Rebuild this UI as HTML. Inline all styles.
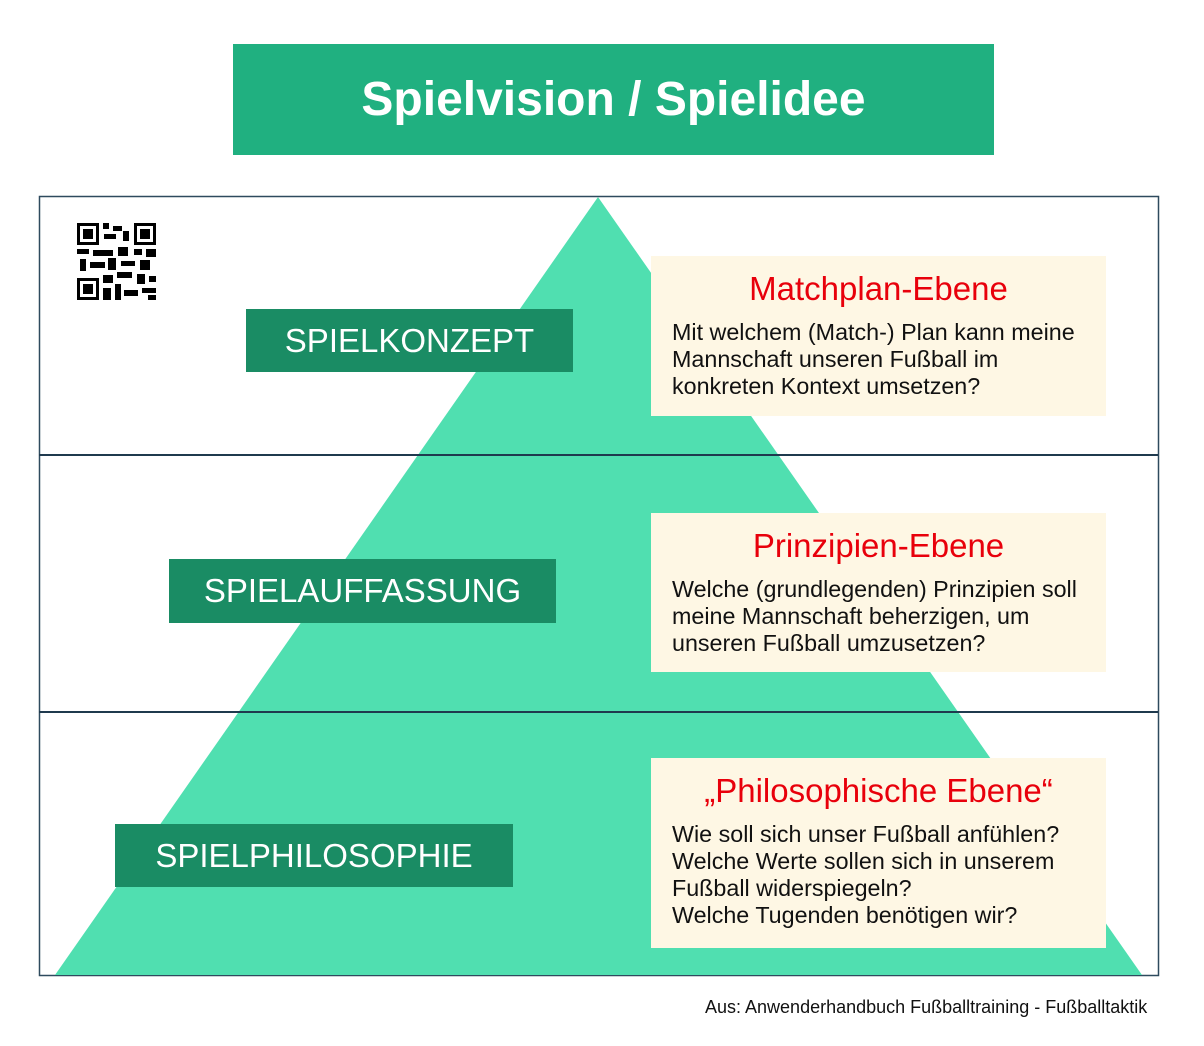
<!DOCTYPE html>
<html><head><meta charset="utf-8"><style>
*{margin:0;padding:0;box-sizing:border-box}
body{width:1204px;height:1046px;background:#fff;position:relative;overflow:hidden;font-family:"Liberation Sans",Arial,sans-serif}
.a{position:absolute}
.title{left:233px;top:44px;width:761px;height:111px;background:#20b080;color:#fff;font-weight:bold;font-size:48px;display:flex;align-items:center;justify-content:center}
.lab{background:#1a8c64;color:#fff;font-size:33px;display:flex;align-items:center;justify-content:center}
.box{background:#fef7e4;left:651px;width:455px;padding-left:21px}
.box h{display:block;color:#e8000b;font-size:33px;text-align:center;margin-left:-21px;line-height:36px}
.box p{font-size:23.3px;line-height:27px;color:#111;white-space:nowrap}
</style></head><body>
<div class="a title">Spielvision / Spielidee</div>
<svg class="a" style="left:0;top:0" width="1204" height="1046">
<rect x="39.5" y="196.5" width="1119" height="779" fill="none" stroke="#2e4a5e" stroke-width="1.5"/>
<polygon points="598,197 1142,975 55,975" fill="#50dfb0"/>
<line x1="39" y1="455" x2="1158" y2="455" stroke="#1f3a4e" stroke-width="2"/>
<line x1="39" y1="712" x2="1158" y2="712" stroke="#1f3a4e" stroke-width="2"/>
<g fill="#000">
<rect x="77" y="223" width="22" height="22"/><rect x="80" y="226" width="16" height="16" fill="#fff"/><rect x="83" y="229" width="10" height="10"/>
<rect x="134" y="223" width="22" height="22"/><rect x="137" y="226" width="16" height="16" fill="#fff"/><rect x="140" y="229" width="10" height="10"/>
<rect x="77" y="278" width="22" height="22"/><rect x="80" y="281" width="16" height="16" fill="#fff"/><rect x="83" y="284" width="10" height="10"/>
<rect x="103" y="223" width="6" height="6"/><rect x="113" y="226" width="9" height="5"/><rect x="104" y="234" width="12" height="5"/><rect x="123" y="231" width="6" height="10"/>
<rect x="77" y="249" width="12" height="5"/><rect x="93" y="250" width="20" height="6"/><rect x="118" y="247" width="10" height="9"/><rect x="134" y="249" width="8" height="6"/><rect x="146" y="249" width="10" height="8"/>
<rect x="80" y="259" width="6" height="12"/><rect x="90" y="262" width="15" height="6"/><rect x="108" y="258" width="8" height="12"/><rect x="121" y="261" width="14" height="5"/><rect x="140" y="260" width="10" height="10"/>
<rect x="103" y="275" width="10" height="8"/><rect x="117" y="272" width="15" height="6"/><rect x="137" y="274" width="8" height="10"/><rect x="149" y="276" width="7" height="6"/>
<rect x="103" y="288" width="8" height="12"/><rect x="115" y="284" width="6" height="16"/><rect x="124" y="290" width="14" height="6"/><rect x="142" y="288" width="14" height="5"/><rect x="148" y="295" width="8" height="5"/>
</g>
</svg>
<div class="a lab" style="left:246px;top:309px;width:327px;height:63px">SPIELKONZEPT</div>
<div class="a lab" style="left:169px;top:559px;width:387px;height:64px">SPIELAUFFASSUNG</div>
<div class="a lab" style="left:115px;top:824px;width:398px;height:63px">SPIELPHILOSOPHIE</div>
<div class="a box" style="top:256px;height:160px;padding-top:15px"><h>Matchplan-Ebene</h><p style="margin-top:12px">Mit welchem (Match-) Plan kann meine<br>Mannschaft unseren Fußball im<br>konkreten Kontext umsetzen?</p></div>
<div class="a box" style="top:513px;height:159px;padding-top:15px"><h>Prinzipien-Ebene</h><p style="margin-top:12px">Welche (grundlegenden) Prinzipien soll<br>meine Mannschaft beherzigen, um<br>unseren Fußball umzusetzen?</p></div>
<div class="a box" style="top:758px;height:190px;padding-top:15px"><h>„Philosophische Ebene“</h><p style="margin-top:12px">Wie soll sich unser Fußball anfühlen?<br>Welche Werte sollen sich in unserem<br>Fußball widerspiegeln?<br>Welche Tugenden benötigen wir?</p></div>
<div class="a" style="left:705px;top:997px;font-size:18px;color:#111">Aus: Anwenderhandbuch Fußballtraining - Fußballtaktik</div>
</body></html>
